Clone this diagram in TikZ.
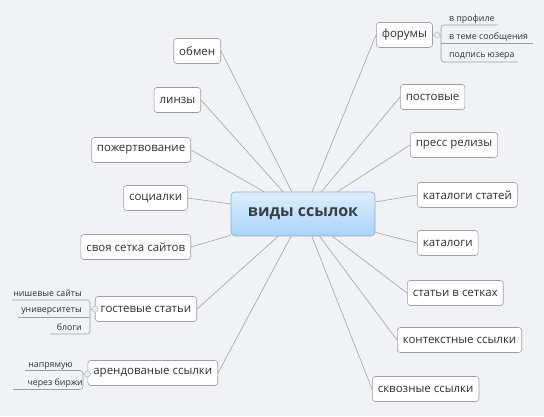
\documentclass[tikz,border=0pt]{standalone}
\usepackage{fontspec}
\setmainfont{Open Sans}
\definecolor{bgc}{HTML}{F1F2F6}
\definecolor{bordc}{HTML}{9E9E9E}
\definecolor{linec}{HTML}{A4A4A8}
\definecolor{txtc}{HTML}{2E2E2E}
\definecolor{ctxt}{HTML}{3A3F47}
\definecolor{ctop}{HTML}{DCEEFD}
\definecolor{cbot}{HTML}{A9D3FA}
\definecolor{cbord}{HTML}{8AAFD2}
\definecolor{circc}{HTML}{A9C8EC}
\definecolor{circf}{HTML}{E4EEFA}
\begin{document}
\begin{tikzpicture}[x=1pt,y=-1pt,
  topic/.style={draw=bordc, fill=white, rounded corners=3pt, inner xsep=5.5pt, inner ysep=0pt, minimum height=25pt, font=\fontsize{11.5}{13}\selectfont, text=txtc, line width=0.6pt},
  central/.style={draw=cbord, top color=ctop, bottom color=cbot, rounded corners=4pt, minimum width=144pt, minimum height=44pt, font=\bfseries\fontsize{16}{18}\selectfont, text=ctxt, line width=0.6pt},
  subtxt/.style={font=\fontsize{8.8}{10}\selectfont, text=txtc, inner sep=0pt},
  conn/.style={draw=linec, line width=0.6pt},
  subline/.style={draw=bordc, line width=0.6pt, rounded corners=3pt},
  knob/.style={circle, draw=circc, fill=circf, line width=0.6pt, minimum size=6pt, inner sep=0pt}]
\fill[bgc] (0,0) rectangle (544,416);
\useasboundingbox (0,0) rectangle (544,416);

\node[central] (c) at (303,214) {виды ссылок};

% right topics
\node[topic, anchor=west] (forum) at (376,35) {форумы};
\node[topic, anchor=west] (post) at (400,97) {постовые};
\node[topic, anchor=west] (press) at (410,145) {пресс релизы};
\node[topic, anchor=west] (katst) at (417,195) {каталоги статей};
\node[topic, anchor=west] (kat) at (417,243) {каталоги};
\node[topic, anchor=west] (setk) at (407,293) {статьи в сетках};
\node[topic, anchor=west] (kont) at (397,340) {контекстные ссылки};
\node[topic, anchor=west] (skv) at (372,389) {сквозные ссылки};

% left topics
\node[topic, anchor=east] (obm) at (221,51) {обмен};
\node[topic, anchor=east] (linz) at (201,100) {линзы};
\node[topic, anchor=east] (pozh) at (191,150) {пожертвование};
\node[topic, anchor=east] (soc) at (188,198) {социалки};
\node[topic, anchor=east] (svoya) at (191,247) {своя сетка сайтов};
\node[topic, anchor=east] (gost) at (197,309) {гостевые статьи};
\node[topic, anchor=east] (arend) at (218,373) {арендованые ссылки};

% connectors
\foreach \t in {forum,post,press,katst,kat,setk,kont,skv}
  \draw[conn] (c) -- (\t.west);
\foreach \t in {obm,linz,pozh,soc,svoya,gost,arend}
  \draw[conn] (c) -- (\t.east);

% forum subtopics
\coordinate (fs) at (441,35);
\draw[subline] (498,25) -- (441,25) -- (441,62) -- (518,62);
\draw[subline] (441,43) -- (533,43);
\draw[conn] (forum.east) -- (fs);
\node[knob] (fk) at (437,35) {};
\node[subtxt, anchor=base west] (f1) at (449,21) {в профиле};
\node[subtxt, anchor=base west] (f2) at (449,39.5) {в теме сообщения};
\node[subtxt, anchor=base west] (f3) at (449,57) {подпись юзера};

% gost subtopics
\coordinate (gs) at (90,309);
\draw[subline] (12,300) -- (90,300) -- (90,334) -- (50,334);
\draw[subline] (18,317) -- (90,317);
\draw[conn] (gost.west) -- (gs);
\node[knob] (gk) at (95,309) {};
\node[subtxt, anchor=base east] (g1) at (82,296) {нишевые сайты};
\node[subtxt, anchor=base east] (g2) at (82,312.5) {университеты};
\node[subtxt, anchor=base east] (g3) at (82,330.5) {блоги};

% arend subtopics
\coordinate (as) at (83,374);
\draw[subline] (25,370.5) -- (83,370.5) -- (83,389.5) -- (13,389.5);
\draw[conn] (arend.west) -- (as);
\node[knob] (ak) at (87.5,374) {};
\node[subtxt, anchor=base east] (a1) at (73,367.5) {напрямую};
\node[subtxt, anchor=base east] (a2) at (83,385.5) {через биржи};
\end{tikzpicture}
\end{document}
